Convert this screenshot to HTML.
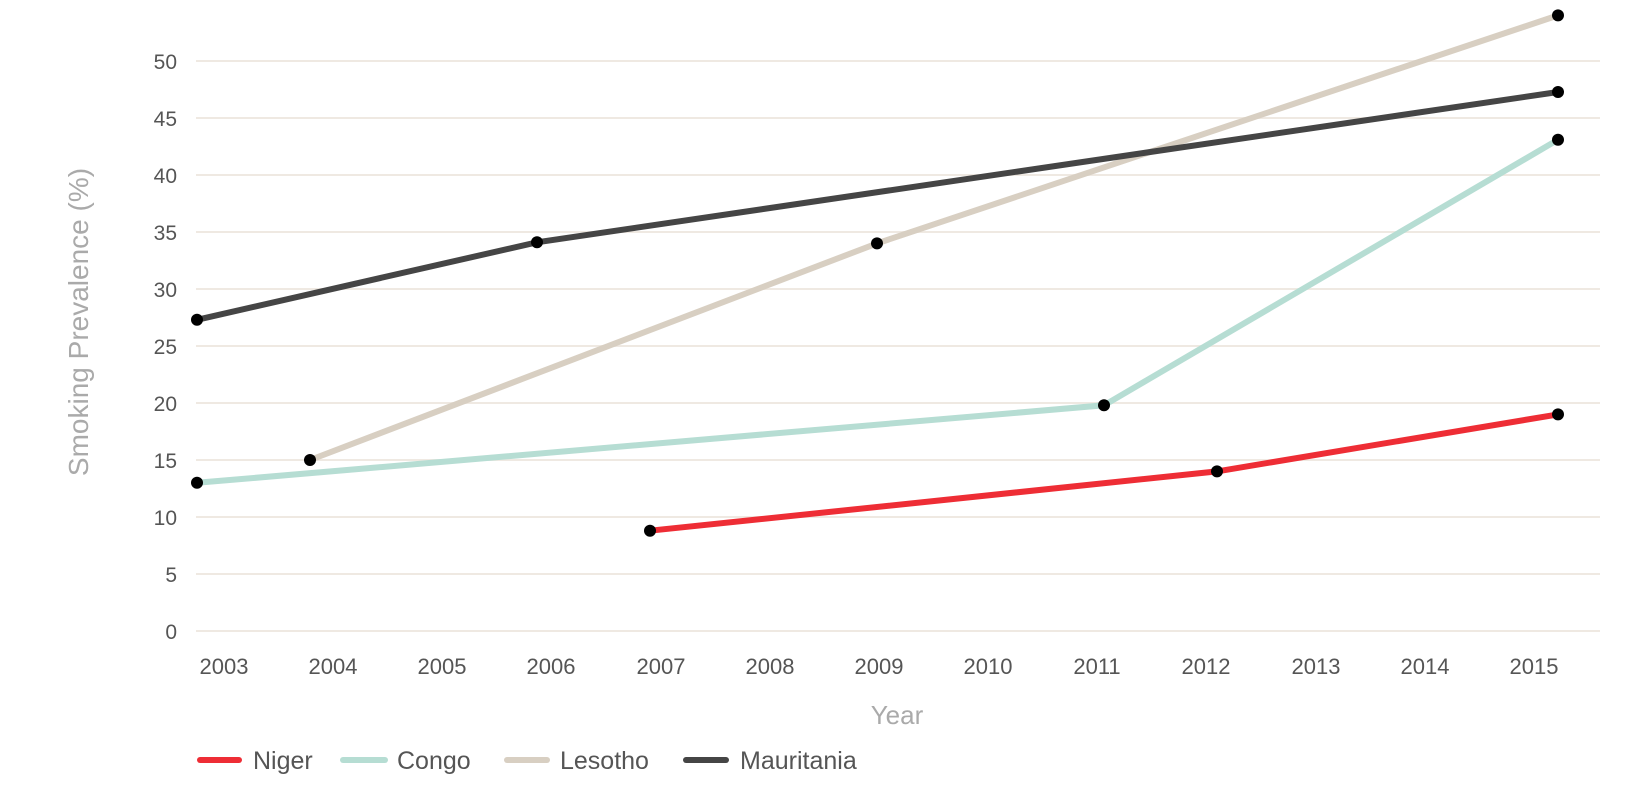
<!DOCTYPE html>
<html><head><meta charset="utf-8"><style>
html,body{margin:0;padding:0;background:#fff;}
svg{display:block;font-family:"Liberation Sans",sans-serif;}
</style></head><body>
<svg width="1631" height="799" viewBox="0 0 1631 799" xmlns="http://www.w3.org/2000/svg">
<g stroke="#efe9e2" stroke-width="2">
<line x1="196" x2="1600" y1="631" y2="631"/>
<line x1="196" x2="1600" y1="574" y2="574"/>
<line x1="196" x2="1600" y1="517" y2="517"/>
<line x1="196" x2="1600" y1="460" y2="460"/>
<line x1="196" x2="1600" y1="403" y2="403"/>
<line x1="196" x2="1600" y1="346" y2="346"/>
<line x1="196" x2="1600" y1="289" y2="289"/>
<line x1="196" x2="1600" y1="232" y2="232"/>
<line x1="196" x2="1600" y1="175" y2="175"/>
<line x1="196" x2="1600" y1="118" y2="118"/>
<line x1="196" x2="1600" y1="61" y2="61"/>
</g>
<g fill="#555" font-size="21" text-anchor="end">
<text x="177" y="639">0</text>
<text x="177" y="582">5</text>
<text x="177" y="525">10</text>
<text x="177" y="468">15</text>
<text x="177" y="411">20</text>
<text x="177" y="354">25</text>
<text x="177" y="297">30</text>
<text x="177" y="240">35</text>
<text x="177" y="183">40</text>
<text x="177" y="126">45</text>
<text x="177" y="69">50</text>
</g>
<g fill="#555" font-size="22" text-anchor="middle">
<text x="224" y="674">2003</text>
<text x="333" y="674">2004</text>
<text x="442" y="674">2005</text>
<text x="551" y="674">2006</text>
<text x="661" y="674">2007</text>
<text x="770" y="674">2008</text>
<text x="879" y="674">2009</text>
<text x="988" y="674">2010</text>
<text x="1097" y="674">2011</text>
<text x="1206" y="674">2012</text>
<text x="1316" y="674">2013</text>
<text x="1425" y="674">2014</text>
<text x="1534" y="674">2015</text>
</g>
<text x="897" y="724" fill="#aaa" font-size="26" text-anchor="middle">Year</text>
<text transform="translate(88,322) rotate(-90)" fill="#aaa" font-size="28" text-anchor="middle">Smoking Prevalence (%)</text>
<g fill="none" stroke-width="6" stroke-linecap="round">
<polyline stroke="#d8cfc2" points="310,460 877,243.4 1558,15.4"/>
<polyline stroke="#b6ddd3" points="197,482.8 1104,405.3 1558,139.7"/>
<polyline stroke="#ee2d35" points="650,530.7 1217,471.4 1558,414.4"/>
<polyline stroke="#454545" points="197,319.8 537,242.3 1558,92"/>
</g>
<g fill="#000">
<circle cx="310" cy="460" r="6"/><circle cx="877" cy="243.4" r="6"/><circle cx="1558" cy="15.4" r="6"/>
<circle cx="197" cy="482.8" r="6"/><circle cx="1104" cy="405.3" r="6"/><circle cx="1558" cy="139.7" r="6"/>
<circle cx="650" cy="530.7" r="6"/><circle cx="1217" cy="471.4" r="6"/><circle cx="1558" cy="414.4" r="6"/>
<circle cx="197" cy="319.8" r="6"/><circle cx="537" cy="242.3" r="6"/><circle cx="1558" cy="92" r="6"/>
</g>
<g stroke-width="6" stroke-linecap="round">
<line x1="200" x2="239" y1="760" y2="760" stroke="#ee2d35"/>
<line x1="343" x2="385" y1="760" y2="760" stroke="#b6ddd3"/>
<line x1="507" x2="547" y1="760" y2="760" stroke="#d8cfc2"/>
<line x1="686" x2="726" y1="760" y2="760" stroke="#454545"/>
</g>
<g fill="#555" font-size="25">
<text x="253" y="769">Niger</text>
<text x="397" y="769">Congo</text>
<text x="560" y="769">Lesotho</text>
<text x="740" y="769">Mauritania</text>
</g>
</svg>
</body></html>
